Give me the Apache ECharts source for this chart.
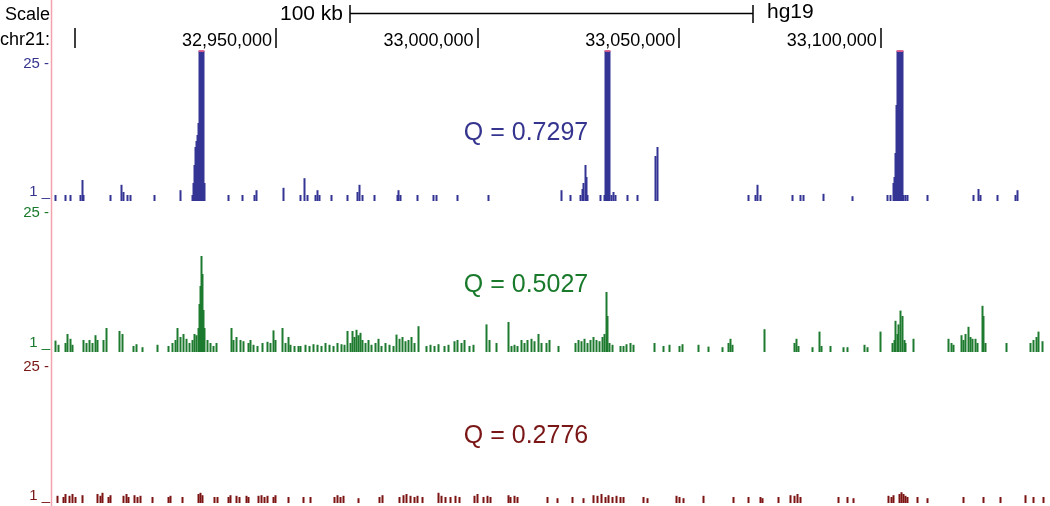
<!DOCTYPE html>
<html>
<head>
<meta charset="utf-8">
<script src="https://cdn.jsdelivr.net/npm/echarts@6/dist/echarts.min.js"></script>
<style>
  html, body { margin: 0; padding: 0; background: #fff; }
  #main { width: 1050px; height: 506px; }
</style>
</head>
<body>
<div id="main"></div>
<script>
// window on chr21, in bins of ~248 bp (one screen column each)
const winStart = 32894448;
const binSize = 248;
const binCount = 996;

const rulerTicks = [32900000, 32950000, 33000000, 33050000, 33100000];
const rulerLabels = [32950000, 33000000, 33050000, 33100000];

const trackMax = 25;
const trackLabels = ["25 -", "1 _"];
const qLabels = ["Q = 0.7297", "Q = 0.5027", "Q = 0.2776"];

// [bin, value]
const blueTrack = [
  [3,1],[13,1],[18,1],[28,1],[30,3.5],[31,1],[58,1],[69,2.7],[71,1.5],[75,1],[78,1],
  [102,1],[128,1.8],[140,1],[141,3],[142,6],[143,9],[144,10],[145,11],[146,13],
  [147,25],[148,25],[149,25],[150,25],[151,25],[152,3],
  [176,1],[190,1],[202,1],[204,1.8],[231,2.2],[248,1],[252,3.8],[255,1],[263,1],[265,1.8],
  [267,1],[279,1],[295,1],[305,1.5],[307,2.7],[310,1],[322,1],[345,1],[346,1.8],[348,1],
  [365,1],[381,1],[384,1],[405,1],[436,1],[509,1.8],[518,1],[528,1],[530,2],[531,3],
  [533,6],[534,4],[535,1],[548,1],[552,1],[553,25],[554,25],[555,25],[556,25],[557,25],
  [559,1],[561,1.5],[563,1],[575,1],[585,1],[603,7.5],[605,9],
  [696,1],[703,1],[705,2.7],[708,1],[740,1],[748,1],[751,1],[771,1.2],[800,0.8],
  [835,1],[838,1],[841,3],[842,4],[843,8],[844,16],[845,25],[846,25],[847,25],[848,25],
  [849,25],[850,25],[851,1],[853,1],[855,1],[875,1],[921,1],[926,2],[928,1],[945,1],
  [963,1],[965,1.8]
];

const greenTrack = [
  [3,1.9],[6,1.2],[13,1.5],[15,3],[18,2.2],[20,1.2],[31,2],[34,1.5],[37,2],[40,1.5],
  [43,2.8],[45,2],[51,2],[54,4],[67,3.5],[70,3],[81,1],[84,1.3],[90,0.8],[105,1.2],
  [116,1],[120,1.5],[123,2],[125,4],[128,2.5],[131,3],[134,2.2],[137,1.5],[140,2],
  [142,3],[144,2.8],[146,4],[147,8],[148,11],[149,16],[150,13],[151,7],[152,4],
  [155,2],[158,1.5],[161,1],[164,1.5],[179,4],[181,2],[184,2.5],[188,2],[191,1.8],
  [196,1.5],[198,2],[201,1.2],[205,1],[210,1.5],[215,1.7],[218,1.5],[221,3.6],[223,2],
  [230,4],[233,1.5],[236,2.5],[238,1.2],[242,1],[246,1],[248,1],[253,1.2],[257,1],
  [261,1.3],[265,1.2],[269,1],[273,1.5],[277,1.2],[281,1],[285,1.5],[289,1.3],[292,1.2],
  [295,3.5],[298,1.5],[300,3.5],[302,2.5],[304,3.7],[306,2.8],[308,3.2],[310,2],
  [313,1.5],[316,2],[319,1.2],[323,1.5],[326,2.2],[329,1],[333,1.5],[337,1.2],[341,1],
  [344,2.9],[347,2.2],[350,2.5],[353,1.8],[356,2],[359,2.5],[362,1.5],[366,4.3],
  [374,1],[378,1.2],[382,1],[386,1.3],[392,1],[396,1.2],[402,1.8],[405,2],[409,1.5],
  [412,2],[417,1],[421,1.2],[434,4.6],[437,2],[444,1.5],[456,5],[459,1],[462,1.2],
  [465,1],[469,2],[472,1.5],[475,2],[479,2.2],[482,1.8],[486,3],[489,1.5],[494,1.5],
  [497,2],[506,1],[523,1.5],[526,2],[529,1.8],[532,2.2],[535,1.5],[538,2],[541,2.5],
  [544,2],[547,1.8],[550,2.5],[552,3],[554,10],[555,6],[557,1.5],[560,1.2],[568,1],
  [571,1],[574,1.3],[578,1.5],[581,1.2],[602,1.5],[611,1],[617,1.2],[627,1],[630,1.3],
  [646,1.2],[656,0.9],[670,0.8],[676,1.5],[678,2.2],[680,1.2],[712,3.8],[742,1.5],
  [744,2.2],[746,1],[760,0.8],[767,3.4],[769,1],[778,1],[791,0.8],[795,0.8],[812,1.2],
  [815,0.8],[828,3.4],[840,1.5],[842,2],[843,5.2],[845,3],[846,4.6],[848,6.9],[850,6],
  [852,2],[853,1.5],[861,2.2],[896,2.2],[899,1.5],[901,1.2],[909,2.8],[911,2],[913,3],
  [916,4.2],[918,2.5],[920,2.2],[923,2.2],[925,1.5],[930,7.7],[931,6],[933,1.5],
  [954,1.5],[978,1.5],[981,2],[984,2.5],[986,3.4],[990,1.8]
];

const redTrack = [
  [5,1.2],[11,1],[13,1.5],[17,1.2],[20,1.5],[23,1],[30,1.3],[45,1.5],[48,1.2],[50,1.7],
  [56,1],[58,1.3],[71,1.2],[74,1.5],[76,1],[82,1.3],[85,1],[88,1.2],[100,1],[116,1],
  [118,1.2],[130,1],[146,1.5],[148,1.7],[150,1.3],[162,1],[165,1],[176,1],[178,1.3],
  [184,1.2],[187,1],[194,1.2],[196,1],[206,1.2],[209,1.3],[212,1],[215,1.2],[221,1],
  [223,1.3],[236,1],[251,1],[258,1],[282,1],[285,1.3],[288,1],[291,1.2],[306,0.8],
  [327,1],[330,1.3],[347,1],[351,1.3],[354,1.5],[358,1.2],[362,1],[365,1.2],[370,1],
  [386,1.7],[389,1.2],[393,1],[398,1],[403,1.2],[407,1],[422,1.2],[425,1.5],[431,1],
  [435,1.2],[438,1],[456,1.3],[458,1],[462,1.2],[465,1],[495,1],[505,0.8],[520,1],
  [531,0.8],[541,1.3],[545,1.2],[549,1.5],[553,1],[556,1.3],[560,1],[564,1.2],[568,1],
  [571,1],[591,1],[595,0.8],[624,1.2],[627,1],[631,0.8],[651,1.2],[681,1],[696,1],
  [708,1],[710,0.8],[726,1],[738,1.3],[742,1.2],[745,1.5],[748,1],[786,1],[795,1],
  [801,0.8],[836,1.2],[839,1],[841,1.3],[847,1.5],[849,1.8],[851,1.5],[853,1.2],
  [855,1],[865,1],[875,0.8],[911,1],[931,1],[948,1],[973,1.3],[981,1],[991,1]
];

const colors = ['#343494', '#1d7a2e', '#7d1414'];
const textColors = ['#35358f', '#197a2c', '#7a1616'];
const capColor = '#da5e8f';
const font = '"Liberation Sans", Arial, Helvetica, sans-serif';

function toPos(bin) { return winStart + (bin + 0.5) * binSize; }
function toSeries(track) { return track.map(d => [toPos(d[0]), d[1]]); }
function commas(v) { return String(Math.round(v)).replace(/\B(?=(\d{3})+(?!\d))/g, ','); }

const xMin = winStart;
const xMax = winStart + binCount * binSize;

const grids = [
  { left: 52, width: 996, top: 51, height: 150 },
  { left: 52, width: 996, top: 202, height: 150 },
  { left: 52, width: 996, top: 353, height: 150 }
];

const xAxes = [
  {
    type: 'value', gridIndex: 0, min: xMin, max: xMax, position: 'top', offset: 3,
    axisLine: { show: false, onZero: false },
    splitLine: { show: false },
    axisTick: { show: true, customValues: rulerTicks, length: 20, lineStyle: { color: '#000', width: 1.5 } },
    axisLabel: {
      show: true, customValues: rulerLabels, formatter: commas, align: 'right',
      verticalAlign: 'bottom', margin: -2, padding: [0, 4, 0, 0],
      color: '#000', fontSize: 18, fontFamily: font
    }
  },
  { type: 'value', gridIndex: 1, min: xMin, max: xMax, show: false },
  { type: 'value', gridIndex: 2, min: xMin, max: xMax, show: false }
];

const yAxes = [0, 1, 2].map(i => ({ type: 'value', gridIndex: i, min: 0, max: trackMax, show: false }));

const tracks = [blueTrack, greenTrack, redTrack];
const series = tracks.map((t, i) => ({
  type: 'bar', xAxisIndex: i, yAxisIndex: i, barWidth: 2,
  itemStyle: { color: colors[i] }, data: toSeries(t)
}));
series.push({
  type: 'scatter', xAxisIndex: 0, yAxisIndex: 0, clip: false, z: 3,
  symbol: 'rect', symbolSize: [2, 2],
  itemStyle: { color: capColor },
  data: toSeries(blueTrack.filter(d => d[1] >= trackMax))
});

// label positions (screen)
const topLabelY = [64, 213, 367];
const baseLabelY = [192, 343, 496];
const qY = [133, 285, 436];

const graphic = [
  { type: 'line', shape: { x1: 51.5, y1: 0, x2: 51.5, y2: 506 }, style: { stroke: '#f3a3ab', lineWidth: 1.5 }, z: 10 },
  { type: 'text', x: 50, y: 15, style: { text: 'Scale', fontSize: 18, fontFamily: font, fill: '#000', align: 'right', verticalAlign: 'middle' } },
  { type: 'text', x: 50, y: 40, style: { text: 'chr21:', fontSize: 18, fontFamily: font, fill: '#000', align: 'right', verticalAlign: 'middle' } },
  { type: 'text', x: 343, y: 14, style: { text: '100 kb', fontSize: 21, fontFamily: font, fill: '#000', align: 'right', verticalAlign: 'middle' } },
  { type: 'text', x: 767, y: 12, style: { text: 'hg19', fontSize: 21, fontFamily: font, fill: '#000', align: 'left', verticalAlign: 'middle' } },
  { type: 'line', shape: { x1: 350, y1: 13.5, x2: 753, y2: 13.5 }, style: { stroke: '#000', lineWidth: 1.5 } },
  { type: 'line', shape: { x1: 350, y1: 5, x2: 350, y2: 23 }, style: { stroke: '#000', lineWidth: 1.5 } },
  { type: 'line', shape: { x1: 753, y1: 5, x2: 753, y2: 23 }, style: { stroke: '#000', lineWidth: 1.5 } }
];
for (let i = 0; i < 3; i++) {
  graphic.push({ type: 'text', x: 49, y: topLabelY[i], style: { text: trackLabels[0], fontSize: 15, fontFamily: font, fill: textColors[i], align: 'right', verticalAlign: 'middle' } });
  graphic.push({ type: 'text', x: 50, y: baseLabelY[i], style: { text: trackLabels[1], fontSize: 15, fontFamily: font, fill: textColors[i], align: 'right', verticalAlign: 'middle' } });
  graphic.push({ type: 'text', x: 526, y: qY[i], style: { text: qLabels[i], fontSize: 25, fontFamily: font, fill: textColors[i], align: 'center', verticalAlign: 'middle' } });
}

const chart = echarts.init(document.getElementById('main'), null, { renderer: 'canvas' });
chart.setOption({
  animation: false,
  backgroundColor: '#fff',
  grid: grids,
  xAxis: xAxes,
  yAxis: yAxes,
  series: series,
  graphic: graphic
});
</script>
</body>
</html>
